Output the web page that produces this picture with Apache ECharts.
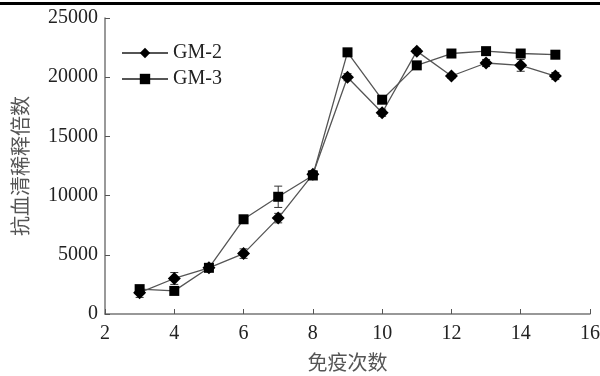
<!DOCTYPE html>
<html><head><meta charset="utf-8">
<script src="https://cdn.jsdelivr.net/npm/echarts@6/dist/echarts.min.js"></script>
<style>html,body{margin:0;padding:0;background:#fff}#c{width:600px;height:376px}
#bar{position:absolute;left:0;top:2px;width:600px;height:3px;background:#000}</style>
</head><body><div id="bar"></div><div id="c"></div>
<script>
const xs = [3,4,5,6,7,8,9,10,11,12,13,14,15];
const gm2 = [1800,3000,3900,5100,8100,11800,20000,17000,22200,20100,21200,21000,20100];
const gm2Err = [400,500,300,400,400,300,300,300,200,200,300,500,300];
const gm3 = [2100,1950,3900,8000,9900,11700,22100,18100,21000,22000,22200,22000,21900];
const gm3Err = [300,300,300,300,900,300,200,300,300,200,300,300,200];
const yTicks = [0,5000,10000,15000,20000,25000];
const serif = '"Liberation Serif","DejaVu Serif",serif';
const cjk = '"Liberation Serif","Noto Sans CJK SC",serif';

function pairs(v){return xs.map((x,i)=>[x,v[i]]);}
function errData(v,e){return xs.map((x,i)=>[x,v[i]-e[i],v[i]+e[i]]);}
function errSeries(v,e){
  return {type:'custom',silent:true,z:1,data:errData(v,e),
    renderItem:function(params,api){
      const x=api.value(0), lo=api.coord([x,api.value(1)]), hi=api.coord([x,api.value(2)]);
      const w=4;
      const st={stroke:'#333',lineWidth:1};
      return {type:'group',children:[
        {type:'line',shape:{x1:lo[0],y1:lo[1],x2:hi[0],y2:hi[1]},style:st},
        {type:'line',shape:{x1:hi[0]-w,y1:hi[1],x2:hi[0]+w,y2:hi[1]},style:st},
        {type:'line',shape:{x1:lo[0]-w,y1:lo[1],x2:lo[0]+w,y2:lo[1]},style:st}
      ]};
    }};
}
const chart = echarts.init(document.getElementById('c'),null,{renderer:'canvas'});
chart.setOption({
  animation:false,
  grid:{left:105,right:10,top:18,bottom:62,containLabel:false,outerBoundsMode:'none'},
  legend:{orient:'vertical',left:116,top:38,itemWidth:46,itemHeight:13,itemGap:6,
    textStyle:{fontFamily:serif,fontSize:20,color:'#222',padding:[0,0,0,0]},
    data:['GM-2','GM-3']},
  xAxis:{type:'value',min:2,max:16,interval:2,
    name:'免疫次数',nameLocation:'middle',nameGap:41,
    nameTextStyle:{fontFamily:cjk,fontSize:20,color:'#555'},
    axisLine:{lineStyle:{color:'#777',width:1.5}},
    axisTick:{inside:true,length:5,lineStyle:{color:'#555'}},
    axisLabel:{fontFamily:serif,fontSize:20,color:'#222',margin:10},
    splitLine:{show:false}},
  yAxis:{type:'value',min:0,max:25000,interval:5000,
    name:'抗血清稀释倍数',nameLocation:'middle',nameGap:72,
    nameTextStyle:{fontFamily:cjk,fontSize:20,color:'#555'},
    axisLine:{show:true,lineStyle:{color:'#777',width:1.5}},
    axisTick:{show:true,inside:true,length:5,lineStyle:{color:'#555'}},
    axisLabel:{fontFamily:serif,fontSize:20,color:'#222',margin:7,
      formatter:v=>yTicks.includes(v)?String(v):''},
    splitLine:{show:false}},
  series:[
    errSeries(gm2,gm2Err),
    errSeries(gm3,gm3Err),
    {name:'GM-2',type:'line',data:pairs(gm2),symbol:'diamond',symbolSize:13,
      itemStyle:{color:'#000'},lineStyle:{color:'#555',width:1.3},z:3},
    {name:'GM-3',type:'line',data:pairs(gm3),symbol:'rect',symbolSize:10,
      itemStyle:{color:'#000'},lineStyle:{color:'#555',width:1.3},z:3}
  ]
});
</script></body></html>
